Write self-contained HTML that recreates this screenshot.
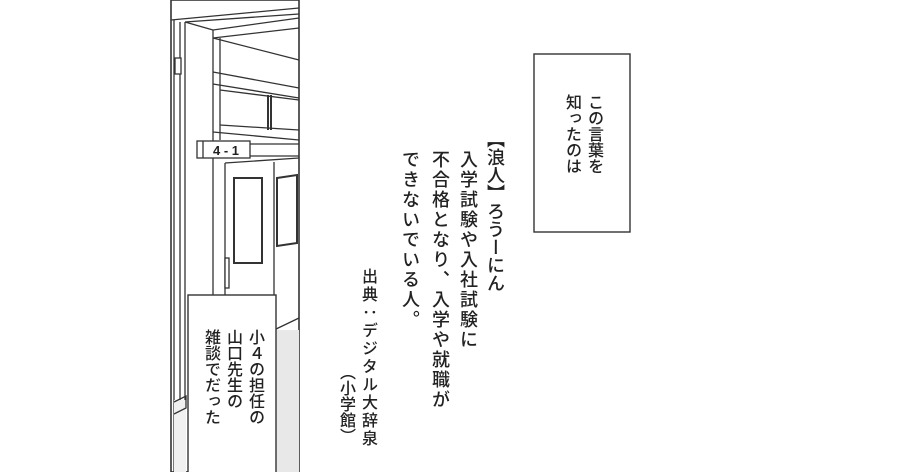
<!DOCTYPE html>
<html><head><meta charset="utf-8"><style>
body{margin:0;width:900px;height:472px;background:#fff;position:relative;overflow:hidden;font-family:"Liberation Sans","Noto Sans CJK JP",sans-serif;color:#222}
.v{position:absolute;writing-mode:vertical-rl;white-space:nowrap;line-height:1;font-weight:500}
</style></head><body>
<svg width="900" height="472" style="position:absolute;left:0;top:0" stroke="#333" fill="none" stroke-width="1.3">
<rect x="171" y="0" width="128" height="472" fill="#fff" stroke-width="1.6"/>
<path d="M171 20 L299 8 M185 22 L299 14 M185 22 L185 472 M185 22 L213 30 M213 30 L299 18 M213 38 L299 28 M213 38 L299 60" />
<path d="M180 22 L180 470 M174 20 L174 472"/>
<rect x="175" y="58" width="6" height="16" fill="#fff"/>
<path d="M213 30 L213 472 M220 38 L220 140"/>
<path d="M213 72 L299 88 M213 84 L299 98 M220 90 L299 100 M220 125 L299 130 M213 132 L299 140"/>
<path d="M268 95 L268 130 M271 95 L271 130" stroke-width="2"/>
<rect x="197" y="141" width="53" height="17" fill="#fff"/>
<path d="M203 141 L203 158"/>
<text x="226" y="155" font-size="13" font-weight="bold" fill="#222" stroke="none" text-anchor="middle" font-family="Liberation Sans">4 - 1</text>
<path d="M250 144 L299 144 M250 156 L299 156"/>
<path d="M225 163 L299 158 M225 163 L225 295 M274 162 L274 470 M274 330 L299 318"/>
<rect x="234" y="178" width="28" height="85" stroke-width="2"/>
<path d="M277 178 L297 175 L297 243 L277 246 Z" stroke-width="2"/>
<rect x="225" y="258" width="4" height="30" fill="#fff"/>
<rect x="276" y="330" width="23" height="142" fill="#e8e8e8" stroke="none"/>
<rect x="174" y="400" width="12" height="72" fill="#f0f0f0" stroke="none"/>
<path d="M174 402 L186 396 L186 408 L174 414"/>
<rect x="188" y="295" width="88" height="180" fill="#fff" stroke-width="1.4"/>
<rect x="534" y="54" width="96" height="178" fill="#fff" stroke-width="1.4"/>
</svg>
<div class="v" style="left:246px;top:329px;font-size:16px">小４の担任の</div>
<div class="v" style="left:224px;top:329px;font-size:16px">山口先生の</div>
<div class="v" style="left:202px;top:329px;font-size:16px">雑談でだった</div>
<div class="v" style="left:585px;top:94px;font-size:16px">この言葉を</div>
<div class="v" style="left:563px;top:94px;font-size:16px">知ったのは</div>
<div class="v" style="left:486px;top:130px;font-size:18px">【浪人】ろうーにん</div>
<div class="v" style="left:459px;top:150px;font-size:18px;letter-spacing:2px">入学試験や入社試験に</div>
<div class="v" style="left:431px;top:150px;font-size:18px;letter-spacing:2px">不合格となり、入学や就職が</div>
<div class="v" style="left:401px;top:150px;font-size:18px;letter-spacing:2px">できないでいる人。</div>
<div class="v" style="left:359px;top:268px;font-size:16px;letter-spacing:2px">出典：デジタル大辞泉</div>
<div class="v" style="left:337px;top:364px;font-size:16px">（小学館）</div>
</body></html>
